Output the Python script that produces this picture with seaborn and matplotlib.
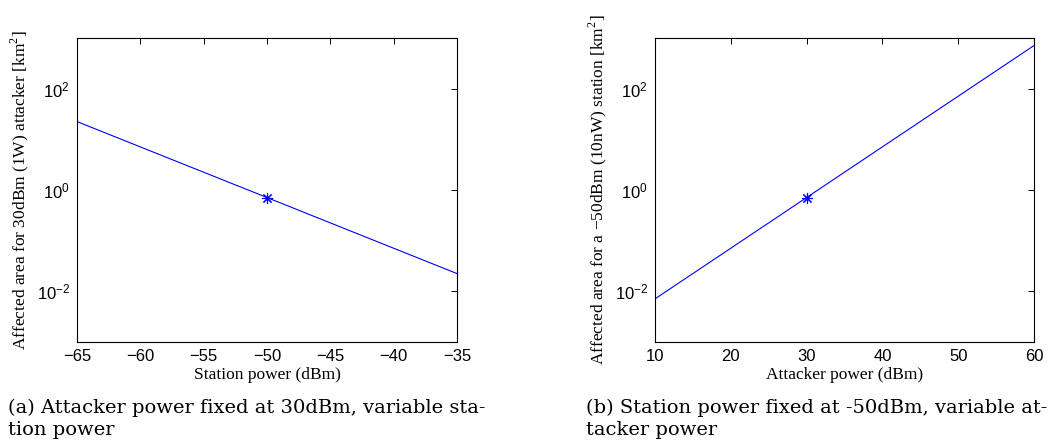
import matplotlib
matplotlib.use("Agg")
import matplotlib.pyplot as plt
import seaborn as sns
import pandas as pd

# ---- data ----
station_power_dbm = [-65, -50, -35]
area_fixed_attacker_km2 = [22.4, 0.71, 0.0224]
marked_station_dbm = [-50]
marked_area_a_km2 = [0.71]

attacker_power_dbm = [10, 30, 60]
area_fixed_station_km2 = [0.0071, 0.71, 710.0]
marked_attacker_dbm = [30]
marked_area_b_km2 = [0.71]

x_ticks_a = [-65, -60, -55, -50, -45, -40, -35]
x_ticks_b = [10, 20, 30, 40, 50, 60]
y_ticks = [1e-2, 1e0, 1e2]
y_tick_labels = [r"$\mathregular{10^{-2}}$", r"$\mathregular{10^{0}}$", r"$\mathregular{10^{2}}$"]

xlabel_a = "Station power (dBm)"
ylabel_a = r"Affected area for 30dBm (1W) attacker [km$^{\mathregular{2}}$]"
xlabel_b = "Attacker power (dBm)"
ylabel_b = r"Affected area for a −50dBm (10nW) station [km$^{\mathregular{2}}$]"
caption_a = "(a) Attacker power fixed at 30dBm, variable sta-\ntion power"
caption_b = "(b) Station power fixed at -50dBm, variable at-\ntacker power"

sns.set_style("white")
plt.rcParams["font.family"] = ["Liberation Sans", "DejaVu Sans"]
plt.rcParams["axes.linewidth"] = 0.8
plt.rcParams["xtick.direction"] = "in"
plt.rcParams["ytick.direction"] = "in"
for k in ["text.color", "axes.labelcolor", "xtick.color", "ytick.color", "axes.edgecolor"]:
    plt.rcParams[k] = "black"

fig = plt.figure(figsize=(10.6, 4.45), dpi=100)
ax_a = fig.add_axes([77 / 1060, 1 - 342 / 445, 380 / 1060, 304 / 445])
ax_b = fig.add_axes([655 / 1060, 1 - 342 / 445, 379 / 1060, 304 / 445])

blue = "#0000ff"
df_a = pd.DataFrame({"x": station_power_dbm, "y": area_fixed_attacker_km2})
df_b = pd.DataFrame({"x": attacker_power_dbm, "y": area_fixed_station_km2})
mk_a = pd.DataFrame({"x": marked_station_dbm, "y": marked_area_a_km2})
mk_b = pd.DataFrame({"x": marked_attacker_dbm, "y": marked_area_b_km2})

panels = [
    (ax_a, df_a, mk_a, x_ticks_a, xlabel_a, ylabel_a),
    (ax_b, df_b, mk_b, x_ticks_b, xlabel_b, ylabel_b),
]
for ax, df, mk, xt, xl, yl in panels:
    sns.lineplot(data=df, x="x", y="y", ax=ax, color=blue, linewidth=0.8,
                 estimator=None, sort=False)
    ax.plot(mk["x"], mk["y"], linestyle="none", marker=(8, 2, 0),
            markersize=8, markeredgewidth=0.8, color=blue)
    ax.set_yscale("log")
    ax.set_xlim(xt[0], xt[-1])
    ax.set_ylim(1e-3, 1e3)
    ax.set_xticks(xt)
    ax.set_xticklabels([f"{v}".replace("-", "\u2212") for v in xt])
    ax.set_yticks(y_ticks)
    ax.set_yticklabels(y_tick_labels)
    ax.minorticks_off()
    ax.tick_params(axis="both", which="major", direction="in", length=4,
                   width=0.7, top=True, right=True, labelsize=12,
                   color="black", labelcolor="black", pad=5)
    for s in ax.spines.values():
        s.set_visible(True)
        s.set_color("black")
    ax.set_xlabel(xl, fontfamily="Liberation Serif", fontsize=12.5,
                  labelpad=2, color="black")
    ax.set_ylabel(yl, fontfamily="Liberation Serif", fontsize=12.5,
                  labelpad=4, color="black")

fig.text(8 / 1060, 1 - 399 / 445, caption_a, fontfamily="DejaVu Serif",
         fontsize=14, va="top", ha="left", linespacing=1.25, color="black")
fig.text(586 / 1060, 1 - 399 / 445, caption_b, fontfamily="DejaVu Serif",
         fontsize=14, va="top", ha="left", linespacing=1.25, color="black")

fig.savefig("out.png", dpi=100)
